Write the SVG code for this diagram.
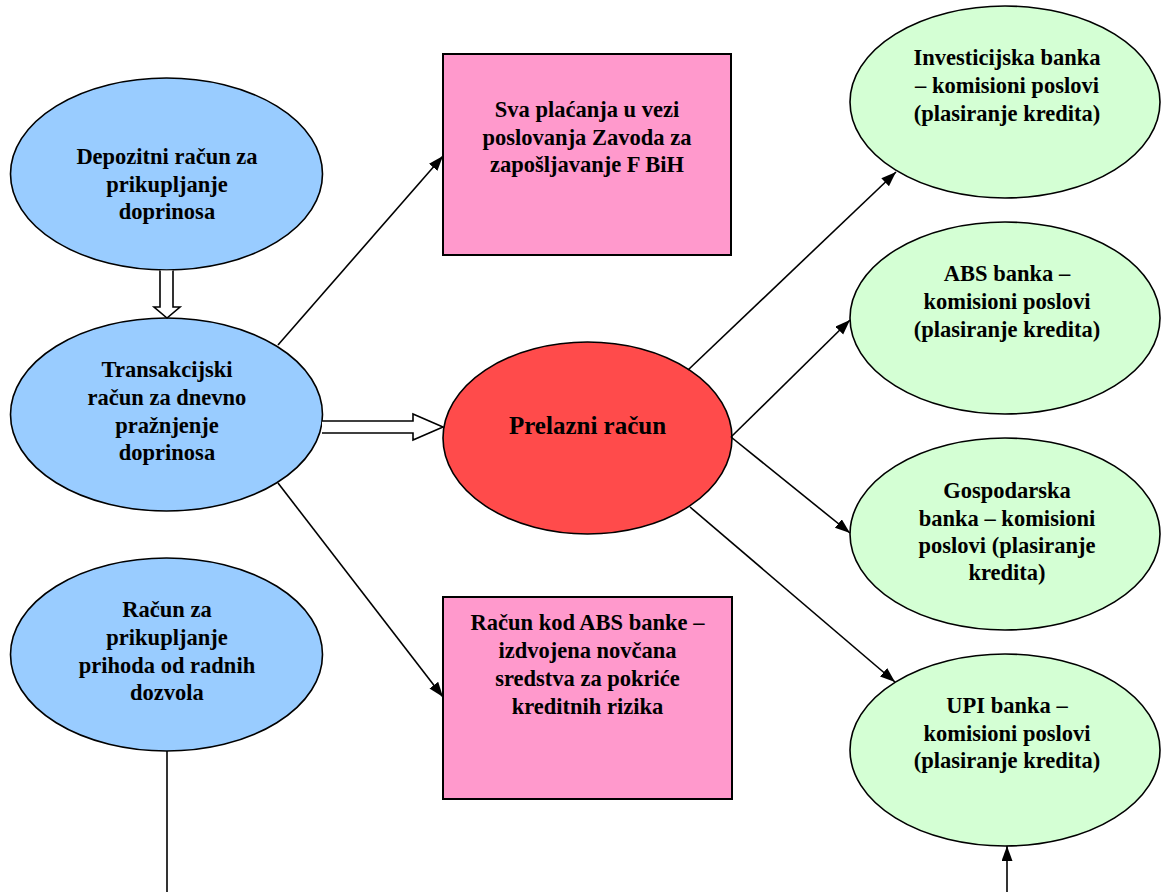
<svg xmlns="http://www.w3.org/2000/svg" width="1161" height="892" viewBox="0 0 1161 892">
<style>
  .t { font-family: "Liberation Serif", "Times New Roman", serif; font-weight: bold; font-size: 22.5px; fill: #000; text-anchor: middle; }
  .big { font-size: 25px; }
  .blue { fill: #99CCFF; stroke: #000; stroke-width: 1.6; }
  .pink { fill: #FF99CC; stroke: #000; stroke-width: 2; }
  .red { fill: #FF4B4B; stroke: #000; stroke-width: 1.6; }
  .green { fill: #D4FFD4; stroke: #000; stroke-width: 1.6; }
  .ln { fill: none; stroke: #000; stroke-width: 1.6; }
  .arr { fill: none; stroke: #000; stroke-width: 1.6; marker-end: url(#ah); }
  .blk { fill: #fff; stroke: #000; stroke-width: 1.6; stroke-linejoin: miter; }
</style>
<defs>
  <marker id="ah" markerUnits="userSpaceOnUse" markerWidth="16" markerHeight="12" refX="15" refY="5.5" orient="auto">
    <path d="M0,0 L15,5.5 L0,11 z" fill="#000"/>
  </marker>
</defs>
<rect width="1161" height="892" fill="#fff"/>

<g id="depozitni">
  <ellipse class="blue" cx="166.5" cy="174" rx="156" ry="96"/>
  <text class="t" x="167" y="164">Depozitni račun za</text>
  <text class="t" x="167" y="192">prikupljanje</text>
  <text class="t" x="167" y="219">doprinosa</text>
</g>

<g id="transakcijski">
  <ellipse class="blue" cx="166.5" cy="414.5" rx="156" ry="96.5"/>
  <text class="t" x="167" y="377">Transakcijski</text>
  <text class="t" x="167" y="405">račun za dnevno</text>
  <text class="t" x="167" y="433">pražnjenje</text>
  <text class="t" x="167" y="460">doprinosa</text>
</g>

<g id="racun-dozvole">
  <ellipse class="blue" cx="166.5" cy="654.5" rx="156" ry="96.5"/>
  <text class="t" x="167" y="617">Račun za</text>
  <text class="t" x="167" y="645">prikupljanje</text>
  <text class="t" x="167" y="673">prihoda od radnih</text>
  <text class="t" x="167" y="700">dozvola</text>
</g>

<g id="sva-placanja">
  <rect class="pink" x="443" y="54" width="288" height="201"/>
  <text class="t" x="587" y="117">Sva plaćanja u vezi</text>
  <text class="t" x="587" y="145">poslovanja Zavoda za</text>
  <text class="t" x="587" y="172">zapošljavanje F BiH</text>
</g>

<g id="racun-abs">
  <rect class="pink" x="443" y="597" width="289" height="202"/>
  <text class="t" x="587.5" y="630">Račun kod ABS banke –</text>
  <text class="t" x="587.5" y="658">izdvojena novčana</text>
  <text class="t" x="587.5" y="686">sredstva za pokriće</text>
  <text class="t" x="587.5" y="714">kreditnih rizika</text>
</g>

<g id="prelazni">
  <ellipse class="red" cx="587.5" cy="438" rx="144.5" ry="96"/>
  <text class="t big" x="587.5" y="434">Prelazni račun</text>
</g>

<g id="investicijska">
  <ellipse class="green" cx="1005" cy="102" rx="155" ry="96"/>
  <text class="t" x="1007" y="65">Investicijska banka</text>
  <text class="t" x="1007" y="93">– komisioni poslovi</text>
  <text class="t" x="1007" y="121">(plasiranje kredita)</text>
</g>

<g id="abs-banka">
  <ellipse class="green" cx="1005" cy="318" rx="155" ry="96"/>
  <text class="t" x="1007" y="281">ABS banka –</text>
  <text class="t" x="1007" y="309">komisioni poslovi</text>
  <text class="t" x="1007" y="337">(plasiranje kredita)</text>
</g>

<g id="gospodarska">
  <ellipse class="green" cx="1005" cy="534" rx="155" ry="96"/>
  <text class="t" x="1007" y="498">Gospodarska</text>
  <text class="t" x="1007" y="526">banka – komisioni</text>
  <text class="t" x="1007" y="553">poslovi (plasiranje</text>
  <text class="t" x="1007" y="580">kredita)</text>
</g>

<g id="upi">
  <ellipse class="green" cx="1005" cy="750" rx="155" ry="96"/>
  <text class="t" x="1007" y="713">UPI banka –</text>
  <text class="t" x="1007" y="741">komisioni poslovi</text>
  <text class="t" x="1007" y="768">(plasiranje kredita)</text>
</g>

<g id="connectors">
  <path class="blk" d="M160,270.5 V307 H154 L167,318 L180,307 H173 V270.5"/>
  <path class="blk" d="M322,421 H413 V414 L443,427 L413,440 V433 H322"/>
  <line class="arr" x1="278" y1="345" x2="443" y2="156"/>
  <line class="arr" x1="278" y1="483" x2="443" y2="697"/>
  <line class="arr" x1="688" y1="370" x2="896" y2="172"/>
  <line class="arr" x1="731" y1="437" x2="850" y2="320"/>
  <line class="arr" x1="731" y1="437" x2="850" y2="533"/>
  <line class="arr" x1="690" y1="507" x2="895" y2="682"/>
  <line class="ln" x1="167" y1="751" x2="167" y2="892"/>
  <line class="arr" x1="1007" y1="892" x2="1007" y2="846"/>
</g>
</svg>
